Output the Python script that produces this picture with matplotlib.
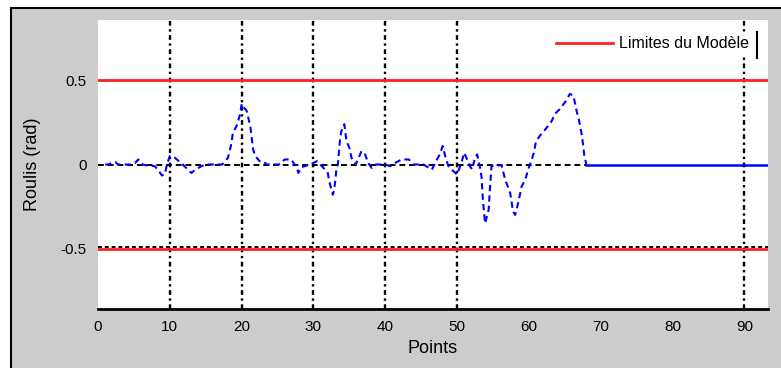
import matplotlib
matplotlib.use("Agg")
import matplotlib.pyplot as plt
import matplotlib.transforms as mtransforms
from matplotlib.lines import Line2D
from matplotlib.patches import Rectangle

plt.rcParams['font.family'] = ['Liberation Sans', 'DejaVu Sans']

# Roll response along the trajectory points
points = [1.0, 1.4, 2.0, 2.4, 2.8, 3.5, 4.5, 5.2, 5.6, 6.2, 6.8, 7.9, 8.5, 8.9, 9.3, 9.6,
          10.0, 10.7, 11.8, 12.5, 13.0, 13.6, 14.4, 15.0, 17.3, 18.1, 18.5, 18.8, 19.3,
          19.8, 20.0, 20.3, 20.7, 21.2, 21.6, 21.9, 22.5, 23.0, 23.5, 25.2, 26.0, 26.9,
          27.7, 27.9, 28.4, 29.5, 30.5, 31.4, 32.0, 32.2, 32.7, 32.9, 33.2, 33.4, 33.7,
          33.9, 34.3, 34.6, 35.0, 35.3, 35.9, 36.7, 37.2, 37.6, 38.1, 38.7, 40.0, 40.7,
          41.4, 42.3, 43.3, 43.9, 45.3, 46.5, 47.2, 47.6, 48.0, 48.4, 48.8, 49.5, 50.0,
          50.6, 51.0, 51.4, 51.8, 52.1, 52.5, 52.8, 53.2, 53.4, 53.6, 53.9, 54.4, 54.6,
          54.8, 55.5, 56.2, 56.7, 57.4, 57.8, 58.1, 58.5, 59.0, 59.5, 59.9, 60.4, 60.7,
          61.0, 61.7, 62.5, 63.2, 63.6, 64.3, 65.2, 65.7, 66.2, 66.7, 67.0, 67.4, 67.7, 68.0]
roll = [0.0, 0.0, 0.01, 0.015, 0.0, 0.0, 0.0, 0.01, 0.03, 0.0, -0.005, -0.01, -0.04, -0.065,
        -0.06, 0.0, 0.05, 0.04, 0.0, -0.03, -0.05, -0.03, -0.01, 0.0, 0.0, 0.04, 0.11, 0.19,
        0.23, 0.30, 0.36, 0.34, 0.32, 0.23, 0.09, 0.05, 0.02, 0.02, 0.0, 0.0, 0.03, 0.03,
        -0.02, -0.05, -0.015, 0.0, 0.02, -0.02, -0.05, -0.1, -0.18, -0.15, -0.03, 0.0, 0.15,
        0.2, 0.24, 0.14, 0.1, 0.04, 0.0, 0.08, 0.06, 0.01, -0.02, 0.0, 0.0, -0.01,
        0.01, 0.03, 0.03, 0.0, 0.0, -0.03, 0.03, 0.06, 0.11, 0.04, -0.01, -0.04, -0.06,
        0.01, 0.07, 0.03, -0.01, -0.03, 0.04, 0.06, -0.02, -0.07, -0.21, -0.35, -0.27, -0.13,
        -0.01, -0.005, -0.005, -0.09, -0.17, -0.28, -0.30, -0.23, -0.13, -0.09, -0.03, 0.03,
        0.07, 0.14, 0.18, 0.22, 0.26, 0.30, 0.33, 0.38, 0.42, 0.41, 0.31, 0.26, 0.17, 0.06, 0.0]

# Flat continuation after the last measured point
tail_points = [68.0, 93.3]
tail_roll = [0.0, 0.0]

upper_limit = 0.5
lower_limit = -0.5
grid_x = [10, 20, 30, 40, 50, 90]
x_ticks = [0, 10, 20, 30, 40, 50, 60, 70, 80, 90]
y_ticks = [-0.5, 0, 0.5]
y_tick_labels = ['-0.5', '0', '0.5']
legend_label = 'Limites du Modèle'

fig = plt.figure(figsize=(7.81, 3.68), dpi=100)
fig.patch.set_facecolor('white')
# grey panel with its frame
panel = Rectangle((11 / 781, -0.1), 1.2, 1.1 - 8 / 368,
                  transform=fig.transFigure, facecolor='#cccccc',
                  edgecolor='black', linewidth=1.5, zorder=-5)
fig.patches.append(panel)

ax = fig.add_axes([98 / 781, 59 / 368, 670 / 781, 289 / 368])
ax.set_zorder(2)
ax.set_facecolor('white')
ax.set_xlim(0, 93.3)
ax.set_ylim(-0.86, 0.86)

for gx in grid_x:
    ax.axvline(gx, color='black', linestyle=(0, (2, 1.5, 1, 1.5)), linewidth=1.7, zorder=1)

ax.plot([0, 68], [0, 0], color='black', linestyle=(0, (3, 2)), linewidth=1.4, zorder=1)

ax.axhline(upper_limit, color='#ff2020', linewidth=2, zorder=2, label=legend_label)
ax.axhline(lower_limit, color='#ff2020', linewidth=2, zorder=2)
shift_up = mtransforms.offset_copy(ax.transData, fig=fig, x=0, y=1.2, units='dots')
ax.plot([0, 93.3], [lower_limit, lower_limit], color='black', linestyle=(0, (2, 1.5)),
        linewidth=1.4, zorder=3, transform=shift_up)

ax.plot(points, roll, color='blue', linestyle=(0, (3, 2)), linewidth=1.5, zorder=4)
ax.plot(tail_points, tail_roll, color='blue', linestyle='-', linewidth=1.8, zorder=4)

for side in ['top', 'right', 'left']:
    ax.spines[side].set_visible(False)
ax.spines['bottom'].set_linewidth(2)
ax.spines['bottom'].set_color('black')

ax.set_xticks(x_ticks)
ax.set_yticks(y_ticks)
ax.set_yticklabels(y_tick_labels)
ax.tick_params(axis='both', length=0, labelsize=11, pad=8)
ax.set_xlabel('Points', fontsize=13, labelpad=4)
ax.set_ylabel('Roulis (rad)', fontsize=13, labelpad=14)

leg = ax.legend(loc='center right', bbox_to_anchor=(0.977, 0.917), fontsize=11.5,
                frameon=True, fancybox=False, handlelength=3.6, borderpad=0.25,
                handletextpad=0.35, borderaxespad=0)
leg.get_frame().set_edgecolor('white')
leg.get_frame().set_facecolor('white')
leg.get_frame().set_alpha(1)
ax.add_line(Line2D([0.984, 0.984], [0.87, 0.96], transform=ax.transAxes,
                   color='black', linewidth=1.5, zorder=6))

fig.savefig('out.png', dpi=100)
